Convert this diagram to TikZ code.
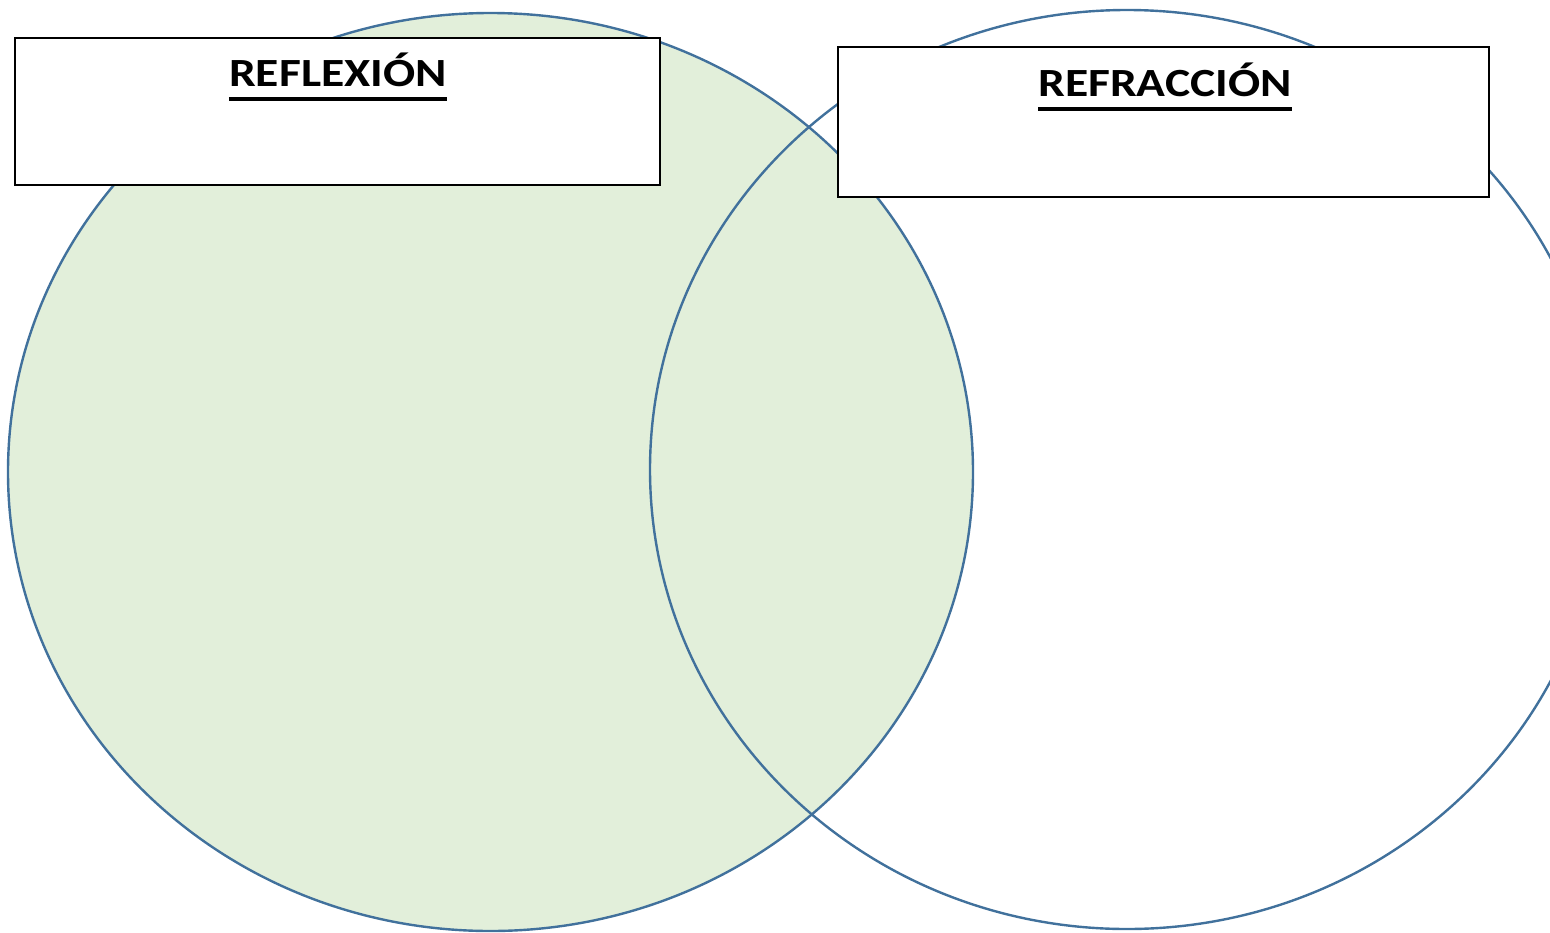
\documentclass[tikz,border=0pt]{standalone}
\usepackage{fontspec}
\setmainfont{Carlito}
\definecolor{vennfill}{HTML}{E2EFDA}
\definecolor{vennline}{HTML}{41719C}
\newcommand{\widetitle}[1]{\scalebox{1.19}[1]{\bfseries\fontsize{40}{48}\selectfont #1}}
\tikzset{
  vennset/.style={draw=vennline, line width=2.4pt},
  titlebox/.style={draw=black, line width=2pt, fill=white},
  title/.style={inner sep=0pt, anchor=base},
  titleline/.style={line width=3.6pt}
}
\begin{document}
\begin{tikzpicture}[x=1pt, y=-1pt]
\useasboundingbox (0,0) rectangle (1550,932);
\begin{scope}
  \clip (0,0) rectangle (1550,932);
  % the two sets
  \draw[vennset, fill=vennfill] (490.5,472) ellipse [x radius=482.5, y radius=459];
  \draw[vennset] (1127,469.5) ellipse [x radius=477, y radius=459.5];
\end{scope}
% label boxes
\draw[titlebox] (15,38) rectangle (660,185);
\draw[titlebox] (838,47) rectangle (1489,197);
\node[title] (reflexion) at (338,86) {\widetitle{REFLEXIÓN}};
\node[title] (refraccion) at (1165,96) {\widetitle{REFRACCIÓN}};
\draw[titleline] ([yshift=-13pt]reflexion.base west) -- ([yshift=-13pt]reflexion.base east);
\draw[titleline] ([yshift=-13pt]refraccion.base west) -- ([yshift=-13pt]refraccion.base east);
\end{tikzpicture}
\end{document}
